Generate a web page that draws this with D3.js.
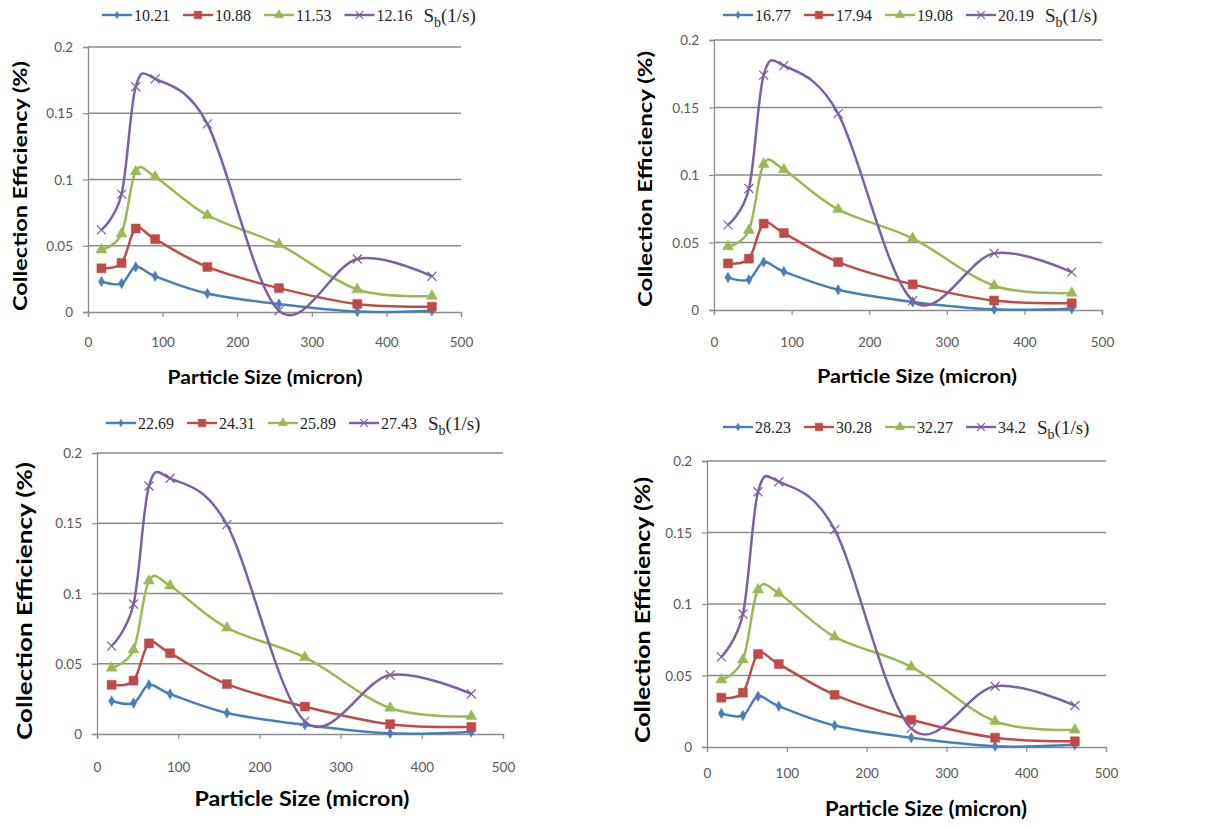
<!DOCTYPE html>
<html>
<head>
<meta charset="utf-8">
<script src="https://cdn.jsdelivr.net/npm/d3@7"></script>
<style>
  body { margin: 0; background: #fff; }
  svg { display: block; }
  .tick text { font-family: Lato, "Liberation Sans", sans-serif; fill: #595959; }
</style>
</head>
<body>
<svg id="chart" width="1208" height="827"></svg>
<script>
// particle sizes (micron), shared by all four panels
var particleSize = [18, 45, 64, 90, 160, 256, 361, 461];
var xTicks = [0, 100, 200, 300, 400, 500];
var yTicks = [0, 0.05, 0.1, 0.15, 0.2];

// legend labels, S_b (1/s)
var ratesA = ["10.21", "10.88", "11.53", "12.16"];
var ratesB = ["16.77", "17.94", "19.08", "20.19"];
var ratesC = ["22.69", "24.31", "25.89", "27.43"];
var ratesD = ["28.23", "30.28", "32.27", "34.2"];

// collection efficiency (%)
var effA1 = [0.023, 0.0215, 0.034, 0.027, 0.014, 0.006, 0.0003, 0.001];
var effA2 = [0.033, 0.037, 0.063, 0.055, 0.034, 0.018, 0.006, 0.004];
var effA3 = [0.047, 0.059, 0.106, 0.102, 0.073, 0.051, 0.017, 0.012];
var effA4 = [0.062, 0.089, 0.170, 0.176, 0.142, 0.001, 0.040, 0.027];

var effB1 = [0.024, 0.0225, 0.0355, 0.0285, 0.015, 0.006, 0.0005, 0.001];
var effB2 = [0.0345, 0.038, 0.064, 0.057, 0.0355, 0.019, 0.007, 0.005];
var effB3 = [0.047, 0.059, 0.108, 0.104, 0.0745, 0.053, 0.018, 0.0125];
var effB4 = [0.063, 0.090, 0.174, 0.181, 0.1455, 0.007, 0.042, 0.028];

var effC1 = [0.0235, 0.022, 0.035, 0.0285, 0.015, 0.0065, 0.0005, 0.0015];
var effC2 = [0.035, 0.038, 0.0645, 0.0575, 0.0355, 0.0195, 0.007, 0.005];
var effC3 = [0.047, 0.060, 0.109, 0.1055, 0.0755, 0.0545, 0.0185, 0.0125];
var effC4 = [0.0625, 0.0925, 0.1765, 0.182, 0.149, 0.009, 0.042, 0.0285];

var effD1 = [0.0235, 0.022, 0.0355, 0.0285, 0.015, 0.0065, 0.0005, 0.0015];
var effD2 = [0.0345, 0.038, 0.065, 0.058, 0.0365, 0.019, 0.0065, 0.004];
var effD3 = [0.047, 0.061, 0.110, 0.1075, 0.077, 0.056, 0.018, 0.012];
var effD4 = [0.063, 0.093, 0.1785, 0.1855, 0.152, 0.013, 0.0425, 0.029];

var colors = ["#4a7ebb", "#be4b48", "#98b954", "#7d60a0"];
var shapes = ["diamond", "square", "triangle", "cross"];

// plot area of each panel in page pixels
var panels = [
  {x0: 88, x1: 461, y0: 312, y1: 47, rates: ratesA, series: [effA1, effA2, effA3, effA4],
   legX: 102, legY: 15, ytX: 20, ytY: 186, ytLen: 250, ytSize: 19, xtX: 265, xtY: 384, xtLen: 195, xtSize: 19, tickGap: 20},
  {x0: 714, x1: 1102, y0: 310, y1: 40, rates: ratesB, series: [effB1, effB2, effB3, effB4],
   legX: 723, legY: 15, ytX: 645, ytY: 179, ytLen: 256, ytSize: 19, xtX: 917, xtY: 383, xtLen: 200, xtSize: 19, tickGap: 22},
  {x0: 97, x1: 503, y0: 734, y1: 453, rates: ratesC, series: [effC1, effC2, effC3, effC4],
   legX: 106, legY: 423, ytX: 25, ytY: 601, ytLen: 278, ytSize: 20, xtX: 302, xtY: 806, xtLen: 215, xtSize: 20, tickGap: 23},
  {x0: 707, x1: 1106, y0: 747, y1: 461, rates: ratesD, series: [effD1, effD2, effD3, effD4],
   legX: 723, legY: 427, ytX: 643, ytY: 610, ytLen: 266, ytSize: 20, xtX: 926, xtY: 816, xtLen: 202, xtSize: 20, tickGap: 16}
];

var svg = d3.select("#chart");

function drawMarker(g, shape, color, s) {
  if (shape == "cross") {
    g.append("path")
      .attr("d", "M" + (-s) + "," + (-s) + "L" + s + "," + s + "M" + (-s) + "," + s + "L" + s + "," + (-s))
      .attr("stroke", color).attr("stroke-width", 1.2).attr("fill", "none");
    return;
  }
  var sym = shape == "diamond" ? d3.symbolDiamond : shape == "square" ? d3.symbolSquare : d3.symbolTriangle;
  var size = shape == "diamond" ? s * s * 2.2 : shape == "square" ? s * s * 4 : s * s * 2.6;
  g.append("path")
    .attr("d", d3.symbol().type(sym).size(size)())
    .attr("fill", color).attr("stroke", color).attr("stroke-width", 0.5);
}

panels.forEach(function(p) {
  var x = d3.scaleLinear().domain([0, 500]).range([p.x0, p.x1]);
  var y = d3.scaleLinear().domain([0, 0.2]).range([p.y0, p.y1]);
  var g = svg.append("g");

  // grid lines
  g.selectAll(".grid").data(yTicks.slice(1)).enter().append("line")
    .attr("x1", p.x0).attr("x2", p.x1)
    .attr("y1", function(d) { return y(d); }).attr("y2", function(d) { return y(d); })
    .attr("stroke", "#8c8c8c").attr("stroke-width", 1.3);

  // axes
  var xa = g.append("g").attr("transform", "translate(0," + p.y0 + ")")
    .call(d3.axisBottom(x).tickValues(xTicks).tickSize(5).tickPadding(p.tickGap).tickFormat(d3.format("d")));
  var ya = g.append("g").attr("transform", "translate(" + p.x0 + ",0)")
    .call(d3.axisLeft(y).tickValues(yTicks).tickSize(5).tickPadding(10)
      .tickFormat(function(d) { return d == 0 ? "0" : String(+d.toFixed(2)); }));
  [xa, ya].forEach(function(a) {
    a.select(".domain").attr("stroke", "#8c8c8c").attr("stroke-width", 1.3);
    a.selectAll(".tick line").attr("stroke", "#8c8c8c").attr("stroke-width", 1.2);
    a.selectAll(".tick text").style("font-size", "13.5px");
  });
  ya.selectAll(".tick text").attr("dy", "0.35em");

  // series lines and markers
  var line = d3.line()
    .curve(d3.curveCardinal)
    .x(function(d, i) { return x(particleSize[i]); })
    .y(function(d) { return y(d); });

  p.series.forEach(function(vals, k) {
    g.append("path").attr("d", line(vals))
      .attr("fill", "none").attr("stroke", colors[k]).attr("stroke-width", 2.5);
    vals.forEach(function(v, i) {
      var m = g.append("g").attr("transform", "translate(" + x(particleSize[i]) + "," + y(v) + ")");
      drawMarker(m, shapes[k], colors[k], k == 0 ? 3.8 : 4.5);
    });
  });

  // legend
  var lx = p.legX;
  p.rates.forEach(function(r, k) {
    var lg = g.append("g").attr("transform", "translate(" + lx + "," + p.legY + ")");
    lg.append("line").attr("x1", 0).attr("x2", 30).attr("stroke", colors[k]).attr("stroke-width", 2.4);
    var mg = lg.append("g").attr("transform", "translate(15,0)");
    drawMarker(mg, shapes[k], colors[k], k == 0 ? 2.8 : 3.8);
    var t = lg.append("text").attr("x", 32).attr("dy", "0.35em")
      .style("font-family", "'Liberation Serif', 'DejaVu Serif', serif").style("font-size", "16px")
      .attr("fill", "#262626").text(r);
    lx += 32 + t.node().getComputedTextLength() + 13;
  });
  var sb = g.append("text").attr("x", lx - 2).attr("y", p.legY).attr("dy", "0.35em")
    .style("font-family", "'Liberation Serif', 'DejaVu Serif', serif").style("font-size", "19px")
    .attr("fill", "#262626");
  sb.append("tspan").text("S");
  sb.append("tspan").attr("dy", 5).style("font-size", "14px").text("b");
  sb.append("tspan").attr("dy", -5).text("(1/s)");

  // axis titles
  g.append("text")
    .attr("transform", "translate(" + p.ytX + "," + p.ytY + ") rotate(-90)")
    .attr("text-anchor", "middle").attr("dy", "0.35em")
    .attr("textLength", p.ytLen).attr("lengthAdjust", "spacingAndGlyphs")
    .style("font-family", "Lato, 'Liberation Sans', sans-serif").style("font-weight", "bold")
    .style("font-size", p.ytSize + "px").text("Collection Efficiency (%)");
  g.append("text")
    .attr("x", p.xtX).attr("y", p.xtY).attr("text-anchor", "middle")
    .attr("textLength", p.xtLen).attr("lengthAdjust", "spacingAndGlyphs")
    .style("font-family", "Lato, 'Liberation Sans', sans-serif").style("font-weight", "bold")
    .style("font-size", p.xtSize + "px").text("Particle Size (micron)");
});
</script>
</body>
</html>
